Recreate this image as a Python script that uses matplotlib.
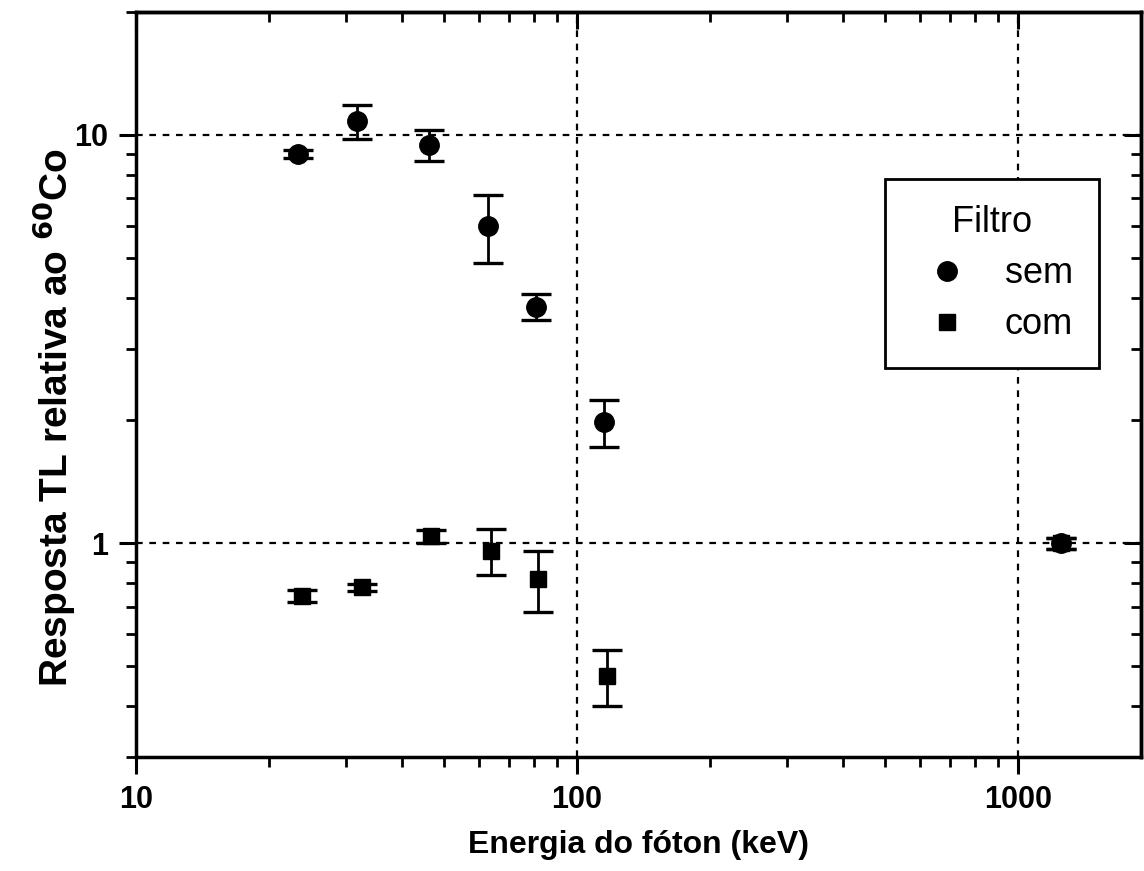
import matplotlib
matplotlib.use('Agg')
import matplotlib.pyplot as plt
from matplotlib.lines import Line2D
from matplotlib.ticker import LogLocator, FixedLocator, FixedFormatter, NullFormatter

plt.rcParams['font.family'] = ['Liberation Sans', 'DejaVu Sans']

# Data (energy in keV, response relative to 60Co)
sem_x = [23.3, 31.7, 46.1, 62.8, 80.7, 115, 1250]
sem_y = [9.0, 10.8, 9.45, 6.0, 3.8, 1.98, 1.0]
sem_err = [0.2, 1.05, 0.83, 1.13, 0.27, 0.26, 0.03]

com_x = [23.8, 32.5, 46.7, 63.8, 81.6, 117, 1250]
com_y = [0.745, 0.78, 1.04, 0.96, 0.82, 0.474, 1.0]
com_err = [0.025, 0.015, 0.04, 0.123, 0.14, 0.073, 0.03]

x_major = [10, 100, 1000]
x_major_labels = ['10', '100', '1000']
y_major = [1, 10]
y_major_labels = ['1', '10']

fig = plt.figure(figsize=(11.44, 8.71), dpi=100)
ax = fig.add_axes([0.1189, 0.1309, 0.8785, 0.8553])

ax.set_xscale('log')
ax.set_yscale('log')

eb_kw = dict(color='black', linestyle='none', elinewidth=2.0, capsize=11, capthick=2.4)
ax.errorbar(sem_x, sem_y, yerr=sem_err, marker='o', markersize=14, zorder=3, **eb_kw)
ax.errorbar(com_x, com_y, yerr=com_err, marker='s', markersize=12, zorder=4, **eb_kw)

ax.set_xlim(10, 1900)
ax.set_ylim(0.3, 20)

ax.xaxis.set_major_locator(FixedLocator(x_major))
ax.xaxis.set_major_formatter(FixedFormatter(x_major_labels))
ax.xaxis.set_minor_locator(LogLocator(base=10, subs=range(2, 10)))
ax.xaxis.set_minor_formatter(NullFormatter())
ax.yaxis.set_major_locator(FixedLocator(y_major))
ax.yaxis.set_major_formatter(FixedFormatter(y_major_labels))
ax.yaxis.set_minor_locator(LogLocator(base=10, subs=range(2, 10)))
ax.yaxis.set_minor_formatter(NullFormatter())

ax.tick_params(which='major', direction='out', length=12, width=2.2,
               labelsize=22, pad=8)
ax.tick_params(which='minor', direction='out', length=7, width=2.0)
for lab in ax.get_xticklabels() + ax.get_yticklabels():
    lab.set_fontweight('bold')

for sp in ax.spines.values():
    sp.set_linewidth(2.5)

ax.grid(which='major', color='black', linestyle=(0, (3, 3)), linewidth=1.6)

# top and right ticks pointing inward
sx = ax.secondary_xaxis('top')
sx.xaxis.set_major_locator(FixedLocator(x_major))
sx.xaxis.set_minor_locator(LogLocator(base=10, subs=range(2, 10)))
sx.tick_params(which='major', direction='in', length=12, width=2.2, labeltop=False)
sx.tick_params(which='minor', direction='in', length=7, width=2.0, labeltop=False)
sx.spines['top'].set_linewidth(2.5)

sy = ax.secondary_yaxis('right')
sy.yaxis.set_major_locator(FixedLocator(y_major))
sy.yaxis.set_minor_locator(LogLocator(base=10, subs=range(2, 10)))
sy.tick_params(which='major', direction='in', length=12, width=2.2, labelright=False)
sy.tick_params(which='minor', direction='in', length=7, width=2.0, labelright=False)
sy.spines['right'].set_linewidth(2.5)

ax.set_xlabel('Energia do fóton (keV)', fontsize=23, fontweight='bold', labelpad=11)
ax.set_ylabel(r'Resposta TL relativa ao $^{\mathbf{60}}$Co', fontsize=28,
              fontweight='bold')
ax.yaxis.set_label_coords(-0.058, 0.455)

handles = [Line2D([], [], marker='o', color='black', linestyle='none', markersize=14),
           Line2D([], [], marker='s', color='black', linestyle='none', markersize=11)]
leg = ax.legend(handles, ['sem', 'com'], title='Filtro', loc='upper left',
                bbox_to_anchor=(0.745, 0.776), borderaxespad=0, fontsize=26,
                title_fontsize=26, frameon=True, fancybox=False, edgecolor='black',
                framealpha=1, borderpad=0.72, handlelength=2.0, handletextpad=0.6,
                labelspacing=0.45)
leg.get_frame().set_linewidth(2.0)

fig.savefig('out.png', dpi=100)
